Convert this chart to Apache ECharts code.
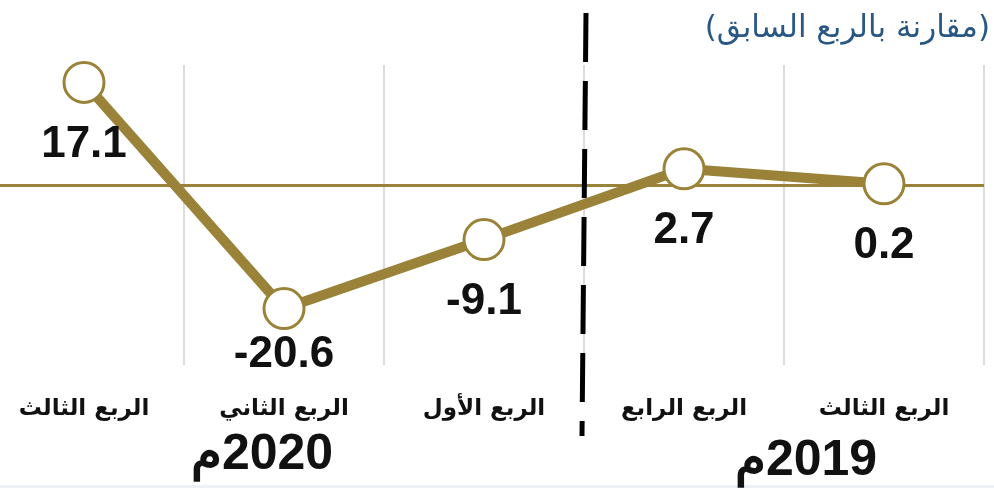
<!DOCTYPE html>
<html lang="en" dir="ltr">
<head>
    <meta charset="UTF-8">
    <title>مقارنة بالربع السابق</title>
    <script src="https://cdn.jsdelivr.net/npm/echarts@6/dist/echarts.min.js"></script>
    <style>
        html, body { margin: 0; padding: 0; background: #fff; overflow: hidden; }
        /* the plot runs 16px past the left edge, as in the original */
        #main { width: 1010px; height: 488px; margin-left: -16px; }
    </style>
</head>
<body>
<div id="main"></div>
<script type="text/javascript">
    // الأرباع بالترتيب الزمني (المحور معكوس ليقرأ من اليمين لليسار)
    var quarters = ['الربع الثالث', 'الربع الرابع', 'الربع الأول', 'الربع الثاني', 'الربع الثالث'];
    var changes = [0.2, 2.7, -9.1, -20.6, 17.1];
    var years = ['2019', '2020'];

    var gold = '#9a8238';
    var myChart = echarts.init(document.getElementById('main'));

    var option = {
        backgroundColor: '#fff',
        animation: false,
        grid: { left: 0, width: 1000, top: 65, height: 300 },
        xAxis: {
            type: 'category',
            data: quarters,
            inverse: true,
            boundaryGap: true,
            axisLine: { show: false },
            axisTick: { show: false },
            axisLabel: {
                margin: 33,
                color: '#111',
                fontSize: 23,
                fontWeight: 'bold',
                fontFamily: 'DejaVu Sans'
            },
            splitLine: { show: true, lineStyle: { color: '#dcdcdc', width: 2 } }
        },
        yAxis: {
            type: 'value',
            min: -30,
            max: 20,
            show: false
        },
        series: [{
            type: 'line',
            data: changes,
            lineStyle: { color: gold, width: 10 },
            symbol: 'circle',
            symbolSize: 40,
            itemStyle: { color: '#fff', borderColor: gold, borderWidth: 3 },
            z: 5,
            label: { show: false },
            markLine: {
                silent: true,
                symbol: 'none',
                label: { show: false },
                lineStyle: { color: gold, width: 3, type: 'solid' },
                data: [{ yAxis: 0 }],
                z: 2
            }
        }],
        graphic: [
            {
                id: 'subtitle',
                type: 'text',
                right: 4,
                top: 13,
                style: {
                    text: '(مقارنة بالربع السابق)',
                    fill: '#2a5884',
                    fontSize: 31,
                    fontFamily: 'DejaVu Sans'
                }
            },
            {
                id: 'strip',
                type: 'rect',
                left: 16,
                bottom: 0,
                shape: { width: 994, height: 3 },
                style: { fill: '#edf2f6' }
            }
        ]
    };

    myChart.setOption(option);

    // الخط الفاصل بين السنتين وعناوين السنوات
    var xa = myChart.convertToPixel({ xAxisIndex: 0 }, 1);
    var xb = myChart.convertToPixel({ xAxisIndex: 0 }, 2);
    var sepX = (xa + xb) / 2;
    var x2020 = myChart.convertToPixel({ xAxisIndex: 0 }, 3) - 22;
    var x2019 = (xa + myChart.convertToPixel({ xAxisIndex: 0 }, 0)) / 2 + 22;

    var yearStyle = {
        fill: '#111',
        fontSize: 50,
        fontWeight: 'bold',
        fontFamily: 'Liberation Sans, Arial',
        textAlign: 'center',
        textVerticalAlign: 'middle'
    };

    // قيم النقاط تكتب تحت كل نقطة (العلامة -20.6 أقرب قليلا)
    var valueLabels = changes.map(function (v, i) {
        var pt = myChart.convertToPixel({ seriesIndex: 0 }, [i, v]);
        return {
            id: 'val' + i,
            type: 'text',
            x: pt[0],
            y: pt[1] + (v < -15 ? 46 : 62),
            style: {
                text: '\u200E' + v.toFixed(1),
                fill: '#111',
                fontSize: 44,
                fontWeight: 'bold',
                fontFamily: 'Liberation Sans, Arial',
                textAlign: 'center',
                textVerticalAlign: 'middle'
            },
            z: 10
        };
    });

    myChart.setOption({
        graphic: [
            {
                id: 'divider',
                type: 'line',
                shape: { x1: sepX + 2, y1: 13, x2: sepX - 2, y2: 436 },
                style: { stroke: '#000', lineWidth: 5, lineDash: [49, 19] },
                z: 10
            },
            {
                id: 'y2020',
                type: 'text',
                x: x2020,
                y: 455,
                style: Object.assign({ text: 'م\u200E' + years[1] }, yearStyle),
                z: 10
            },
            {
                id: 'y2019',
                type: 'text',
                x: x2019,
                y: 461,
                style: Object.assign({ text: 'م\u200E' + years[0] }, yearStyle),
                z: 10
            }
        ].concat(valueLabels)
    });
</script>
</body>
</html>
